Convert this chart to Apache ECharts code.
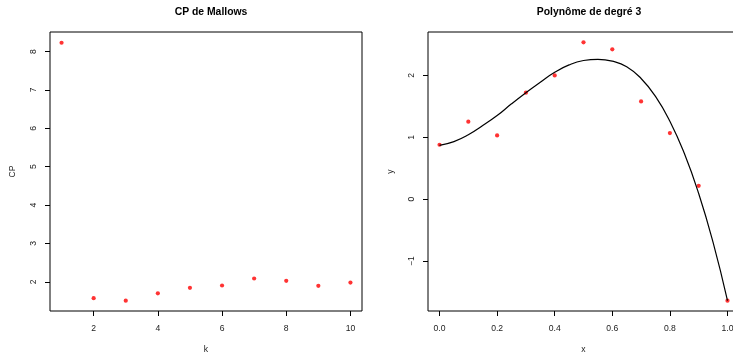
<!DOCTYPE html>
<html>
<head>
<meta charset="utf-8">
<script src="https://cdn.jsdelivr.net/npm/echarts@6/dist/echarts.min.js"></script>
<style>
  html, body { margin: 0; padding: 0; background: #fff; }
  #chart { width: 733px; height: 354px; }
</style>
</head>
<body>
<div id="chart"></div>
<script>
// left panel: Mallows Cp against model size k
const kValues = [1, 2, 3, 4, 5, 6, 7, 8, 9, 10]
const cpValues = [8.23, 1.575, 1.51, 1.70, 1.844, 1.905, 2.087, 2.026, 1.896, 1.98]
const kTicks = [2, 4, 6, 8, 10]
const cpTicks = [2, 3, 4, 5, 6, 7, 8]

const xValues = [0, 0.1, 0.2, 0.3, 0.4, 0.5, 0.6, 0.7, 0.8, 0.9, 1.0]
const yValues = [0.879, 1.251, 1.029, 1.72, 2.0, 2.534, 2.421, 1.579, 1.068, 0.215, -1.641]
const curveX = [0, 0.05, 0.1, 0.15, 0.2, 0.25, 0.3, 0.35, 0.4, 0.45, 0.5, 0.55, 0.6, 0.65, 0.7, 0.75, 0.8, 0.85, 0.9, 0.95, 1.0]
const curveY = [0.87, 0.93, 1.04, 1.19, 1.35, 1.54, 1.72, 1.89, 2.05, 2.17, 2.24, 2.26, 2.23, 2.14, 1.95, 1.66, 1.26, 0.74, 0.09, -0.70, -1.64]
const xTicks = [0, 0.2, 0.4, 0.6, 0.8, 1.0]
const yTicks = [-1, 0, 1, 2]

const FONT = '"Liberation Sans", Arial, sans-serif'
const tickFont = { fontFamily: FONT, fontSize: 8.6, color: '#222' }

function zip(a, b) {
  return a.map((v, i) => [v, b[i]])
}

function xAxisOf(idx, min, max, ticks, name, fmt) {
  return {
    type: 'value', gridIndex: idx, min: min, max: max,
    name: name, nameLocation: 'middle', nameGap: 34,
    nameTextStyle: tickFont,
    axisLine: { show: false, onZero: false },
    splitLine: { show: false },
    axisTick: { show: true, inside: false, length: 5, customValues: ticks, lineStyle: { color: '#000' } },
    axisLabel: { customValues: ticks, margin: 13, formatter: fmt, ...tickFont }
  }
}

function yAxisOf(idx, min, max, ticks, name, fmt) {
  return {
    type: 'value', gridIndex: idx, min: min, max: max,
    name: name, nameLocation: 'middle', nameGap: 33, nameRotate: 90,
    nameTextStyle: tickFont,
    axisLine: { show: false, onZero: false },
    splitLine: { show: false },
    axisTick: { show: true, inside: false, length: 5, customValues: ticks, lineStyle: { color: '#000' } },
    axisLabel: { customValues: ticks, rotate: 90, margin: 12, formatter: fmt, ...tickFont }
  }
}

const chart = echarts.init(document.getElementById('chart'))

const option = {
  animation: false,
  backgroundColor: '#fff',
  title: [
    { text: 'CP de Mallows', left: 206, top: 2, textAlign: 'center',
      textStyle: { fontFamily: FONT, fontSize: 10.4, fontWeight: 'bold', color: '#000' } },
    { text: 'Polynôme de degré 3', left: 584, top: 2, textAlign: 'center',
      textStyle: { fontFamily: FONT, fontSize: 10.4, fontWeight: 'bold', color: '#000' } }
  ],
  grid: [
    { left: 50, top: 32, width: 312, height: 279, show: true, borderColor: '#000', borderWidth: 1,
      outerBoundsMode: 'none', containLabel: false },
    { left: 428, top: 32, width: 311, height: 279, show: true, borderColor: '#000', borderWidth: 1,
      outerBoundsMode: 'none', containLabel: false }
  ],
  xAxis: [
    xAxisOf(0, 0.64, 10.36, kTicks, 'k', v => String(v)),
    xAxisOf(1, -0.04, 1.04, xTicks, 'x', v => v.toFixed(1))
  ],
  yAxis: [
    yAxisOf(0, 1.24, 8.51, cpTicks, 'CP', v => String(v)),
    yAxisOf(1, -1.808, 2.701, yTicks, 'y', v => (v < 0 ? '\u2212' + Math.abs(v) : String(v)))
  ],
  series: [
    {
      type: 'scatter', xAxisIndex: 0, yAxisIndex: 0,
      data: zip(kValues, cpValues),
      symbol: 'circle', symbolSize: 4.2,
      itemStyle: { color: '#ff0000' }
    },
    {
      type: 'line', xAxisIndex: 1, yAxisIndex: 1,
      data: zip(curveX, curveY),
      smooth: 0.5, showSymbol: false,
      lineStyle: { color: '#000', width: 1.2 }
    },
    {
      type: 'scatter', xAxisIndex: 1, yAxisIndex: 1,
      data: zip(xValues, yValues),
      symbol: 'circle', symbolSize: 4.2,
      itemStyle: { color: '#ff0000' }
    }
  ]
}

option && chart.setOption(option)
</script>
</body>
</html>
